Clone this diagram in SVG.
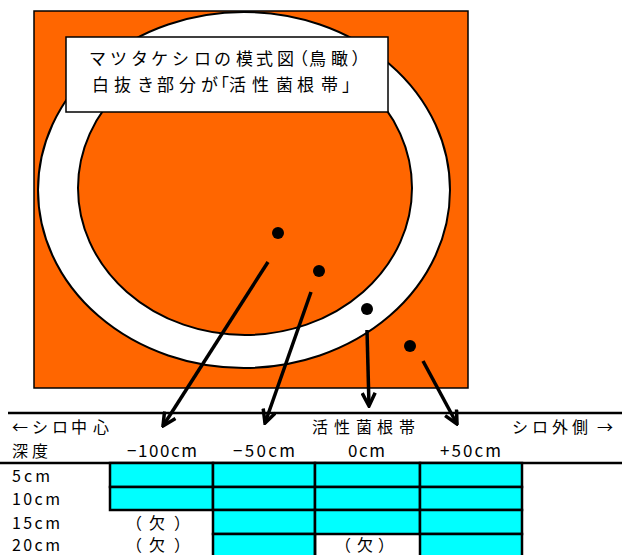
<svg xmlns="http://www.w3.org/2000/svg" width="622" height="555" viewBox="0 0 622 555">
<style>
  text { font-family: "Noto Sans CJK JP", "Liberation Sans", sans-serif; font-size: 16px; fill: #000; }
  .t { font-size: 17px; }
  .lat { font-size: 17px; }
  .row { font-size: 16px; }
  .cell { fill: #00FFFF; stroke: #000; stroke-width: 2.5; }
  .dot { fill: #000; }
  .arrow { stroke: #000; stroke-width: 3.5; fill: none; marker-end: url(#head); }
  .rule { stroke: #000; stroke-width: 2.5; }
</style>
<defs>
  <marker id="head" markerUnits="userSpaceOnUse" viewBox="0 0 16 16" markerWidth="16" markerHeight="16" refX="14" refY="8" orient="auto">
    <path d="M1,1.5 L14,8 L1,14.5" fill="none" stroke="#000" stroke-width="3.5" stroke-linejoin="miter"/>
  </marker>
</defs>
<rect width="622" height="555" fill="#fff"/>

<g id="shiro-map">
  <rect x="34" y="11" width="434" height="377" fill="#FF6600" stroke="#000" stroke-width="1.5"/>
  <ellipse cx="244" cy="190" rx="206" ry="178" fill="#fff" stroke="#000" stroke-width="2"/>
  <ellipse cx="245" cy="188" rx="167" ry="147" fill="#FF6600" stroke="#000" stroke-width="2"/>
</g>

<g id="title-box">
  <rect x="66" y="37" width="322" height="75" fill="#fff" stroke="#000" stroke-width="1.5"/>
  <text class="t" x="89 110 131 151 172 194 214 236 256 277 291 309 331 351.5" y="65">マツタケシロの模式図（鳥瞰）</text>
  <text class="t" x="92 114 137 157 179 201 212 229 252 276 297 321 342" y="91">白抜き部分が「活性菌根帯」</text>
</g>

<g id="point-m100"><circle class="dot" cx="278" cy="233" r="6"/></g>
<g id="point-m50"><circle class="dot" cx="319" cy="271" r="6"/></g>
<g id="point-0"><circle class="dot" cx="367" cy="309" r="6"/></g>
<g id="point-p50"><circle class="dot" cx="410" cy="346" r="6"/></g>

<g id="connectors">
  <line class="arrow" x1="268" y1="262" x2="163" y2="426"/>
  <line class="arrow" x1="311" y1="292" x2="265" y2="423"/>
  <line class="arrow" x1="367" y1="330" x2="369" y2="406"/>
  <line class="arrow" x1="423" y1="361" x2="457" y2="424"/>
</g>

<g id="table">
  <line class="rule" x1="8" y1="413" x2="622" y2="413"/>
  <line class="rule" x1="0" y1="463" x2="622" y2="463"/>

  <text x="12 32 52 71 93" y="433">←シロ中心</text>
  <text x="312 334 356 377 399" y="433">活性菌根帯</text>
  <text x="512 532 552 572 597" y="433">シロ外側→</text>

  <text x="12 32" y="457">深度</text>
  <text class="lat" x="127" y="457" textLength="70" lengthAdjust="spacing">−100cm</text>
  <text class="lat" x="233" y="457" textLength="62" lengthAdjust="spacing">−50cm</text>
  <text class="lat" x="348" y="457" textLength="37" lengthAdjust="spacing">0cm</text>
  <text class="lat" x="440" y="457" textLength="61" lengthAdjust="spacing">+50cm</text>

  <g id="row-5">
    <rect class="cell" x="110" y="463" width="103" height="24"/>
    <rect class="cell" x="213" y="463" width="102" height="24"/>
    <rect class="cell" x="315" y="463" width="105" height="24"/>
    <rect class="cell" x="420" y="463" width="102" height="24"/>
  </g>
  <g id="row-10">
    <rect class="cell" x="110" y="487" width="103" height="23"/>
    <rect class="cell" x="213" y="487" width="102" height="23"/>
    <rect class="cell" x="315" y="487" width="105" height="23"/>
    <rect class="cell" x="420" y="487" width="102" height="23"/>
  </g>
  <g id="row-15">
    <rect class="cell" x="213" y="510" width="102" height="24"/>
    <rect class="cell" x="315" y="510" width="105" height="24"/>
    <rect class="cell" x="420" y="510" width="102" height="24"/>
  </g>
  <g id="row-20">
    <rect class="cell" x="213" y="534" width="102" height="24"/>
    <rect class="cell" x="420" y="534" width="102" height="24"/>
    <line x1="315" y1="534" x2="315" y2="556" stroke="#000" stroke-width="2.5"/>
  </g>

  <text class="row" x="12" y="482" textLength="38" lengthAdjust="spacing">5cm</text>
  <text class="row" x="12" y="505" textLength="48" lengthAdjust="spacing">10cm</text>
  <text class="row" x="12" y="529" textLength="48" lengthAdjust="spacing">15cm</text>
  <text class="row" x="12" y="551" textLength="48" lengthAdjust="spacing">20cm</text>

  <text x="126 149 174" y="529">（欠）</text>
  <text x="126 149 174" y="551">（欠）</text>
  <text x="335 357 378" y="551">（欠）</text>
</g>
</svg>
